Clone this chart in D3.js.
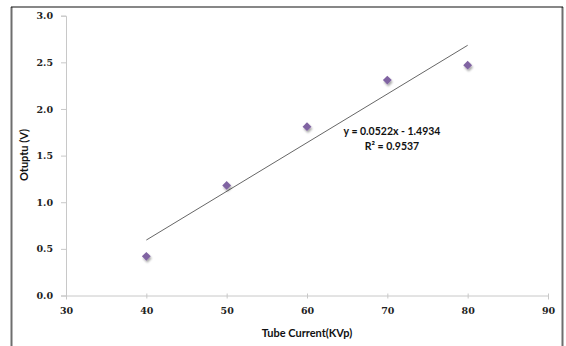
<!DOCTYPE html>
<html><head><meta charset="utf-8">
<script src="https://cdn.jsdelivr.net/npm/d3@7"></script>
<style>
html,body{margin:0;padding:0;background:#fff;}
</style></head>
<body>
<svg id="c" width="566" height="346"></svg>
<script>
const xValues = [40, 50, 60, 70, 80];
const yValues = [0.42, 1.18, 1.81, 2.31, 2.47];
const xTicks = [30, 40, 50, 60, 70, 80, 90];
const yTicks = [0, 0.5, 1.0, 1.5, 2.0, 2.5, 3.0];
const slope = 0.0522, intercept = -1.4934;
const eqLabel = "y = 0.0522x - 1.4934";
const r2Label = "R² = 0.9537";
const xTitle = "Tube Current(KVp)";
const yTitle = "Otuptu (V)";

const svg = d3.select("#c");
const x = d3.scaleLinear().domain([30, 90]).range([66, 548]);
const y = d3.scaleLinear().domain([0, 3]).range([295.5, 15.7]);

// frame
svg.append("line").attr("x1",11.5).attr("x2",11.5).attr("y1",7).attr("y2",346).attr("stroke","#6e6e6e").attr("stroke-width",2);
svg.append("line").attr("x1",562.5).attr("x2",562.5).attr("y1",7).attr("y2",346).attr("stroke","#6e6e6e").attr("stroke-width",2);
svg.append("line").attr("x1",11).attr("x2",563).attr("y1",7).attr("y2",7).attr("stroke","#111").attr("stroke-width",1.2);

const tickFont = "'DejaVu Serif', serif";
const titleFont = "Lato, 'Open Sans', sans-serif";

// axes
const xAxis = svg.append("g").attr("transform",`translate(0,${y(0)})`)
  .call(d3.axisBottom(x).tickValues(xTicks).tickSize(4).tickPadding(8).tickFormat(d3.format("d")));
const yAxis = svg.append("g").attr("transform",`translate(${x(30)},0)`)
  .call(d3.axisLeft(y).tickValues(yTicks).tickSize(5).tickPadding(8).tickFormat(d3.format(".1f")));
[xAxis, yAxis].forEach(g => {
  g.selectAll("path.domain").attr("stroke","#c8c8c8");
  g.selectAll(".tick line").attr("stroke","#c8c8c8");
  g.selectAll(".tick text").attr("fill","#222").attr("font-family",tickFont)
    .attr("font-weight","bold").attr("font-size","9.5px");
});
xAxis.selectAll(".tick line").attr("y1",-2).attr("y2",3);

// trendline
svg.append("line")
  .attr("x1", x(40)).attr("y1", y(slope*40+intercept))
  .attr("x2", x(80)).attr("y2", y(slope*80+intercept))
  .attr("stroke","#555").attr("stroke-width",0.9);

// shadow filter
const defs = svg.append("defs");
const f = defs.append("filter").attr("id","sh").attr("x","-50%").attr("y","-50%").attr("width","200%").attr("height","200%");
f.append("feGaussianBlur").attr("in","SourceAlpha").attr("stdDeviation",1.2).attr("result","b");
f.append("feOffset").attr("in","b").attr("dx",1).attr("dy",1.5).attr("result","o");
f.append("feComponentTransfer").attr("in","o").attr("result","o2").append("feFuncA").attr("type","linear").attr("slope",0.35);
const m = f.append("feMerge");
m.append("feMergeNode").attr("in","o2");
m.append("feMergeNode").attr("in","SourceGraphic");

const diamond = d3.symbol().type(d3.symbolDiamond2).size(50);
svg.append("g").selectAll("path").data(xValues.map((d,i)=>[d,yValues[i]])).join("path")
  .attr("d", diamond)
  .attr("transform", d => `translate(${x(d[0])},${y(d[1])})`)
  .attr("fill","#8064a2").attr("filter","url(#sh)");

// equation
svg.append("text").attr("x",392).attr("y",135).attr("text-anchor","middle")
  .attr("font-family",titleFont).attr("font-weight","bold").attr("font-size","10.5px").attr("fill","#111").text(eqLabel);
svg.append("text").attr("x",392).attr("y",150).attr("text-anchor","middle")
  .attr("font-family",titleFont).attr("font-weight","bold").attr("font-size","10.5px").attr("fill","#111").text(r2Label);

// titles
svg.append("text").attr("x",307).attr("y",337).attr("text-anchor","middle")
  .attr("font-family",titleFont).attr("font-weight","bold").attr("font-size","11px").attr("fill","#111").text(xTitle);
svg.append("text").attr("transform","translate(28,155) rotate(-90)").attr("text-anchor","middle")
  .attr("font-family",titleFont).attr("font-weight","bold").attr("font-size","11px").attr("fill","#111").text(yTitle);
</script>
</body></html>
